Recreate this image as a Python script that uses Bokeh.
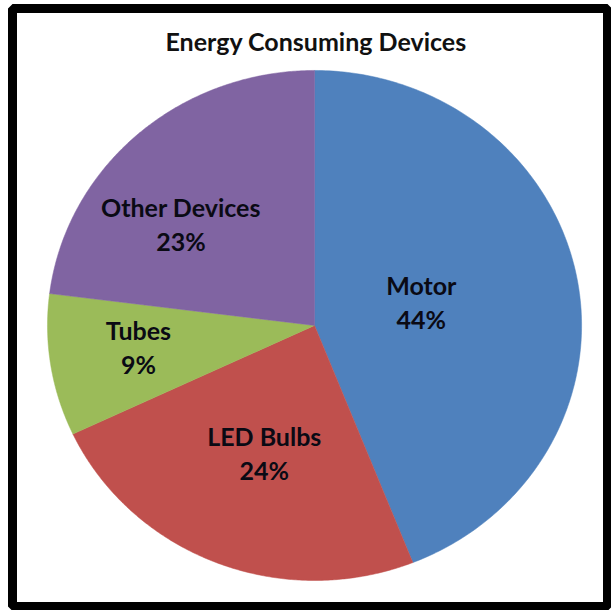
import numpy as np
from bokeh.plotting import figure
from bokeh.models import ColumnDataSource, Range1d
from bokeh.core.properties import value
from bokeh.embed import file_html
from bokeh.resources import INLINE

# Share of energy use by device type (percent), clockwise from 12 o'clock
devices = ["Motor", "LED Bulbs", "Tubes", "Other Devices"]
shares = [44, 24, 9, 23]
colors = ["#4f81bd", "#c0504d", "#9bbb59", "#8064a2"]
title_text = "Energy Consuming Devices"

# label placement: fraction of radius and angular nudge (degrees) per slice
label_radius = [0.41, 0.535, 0.665, 0.64]
label_nudge = [2.0, 1.0, -1.6, 10.0]

FONT = "Lato"

p = figure(width=611, height=610, output_backend="svg", toolbar_location=None,
           x_range=Range1d(-1.131, 1.097), y_range=Range1d(-1.102, 1.243),
           min_border_left=12, min_border_right=4, min_border_top=8, min_border_bottom=4,
           tools="")
p.axis.visible = False
p.grid.visible = False
p.background_fill_color = "white"
p.border_fill_color = "white"
p.outline_line_color = "black"
p.outline_line_width = 9

total = float(sum(shares))
xs, ys, lx, ly = [], [], [], []
start = 0.0
for i, s in enumerate(shares):
    frac0 = start / total
    frac1 = (start + s) / total
    # clockwise from the top
    a = np.pi / 2 - 2 * np.pi * np.linspace(frac0, frac1, 200)
    xs.append(np.concatenate([[0.0], np.cos(a), [0.0]]).tolist())
    ys.append(np.concatenate([[0.0], np.sin(a), [0.0]]).tolist())
    mid = np.pi / 2 - 2 * np.pi * (frac0 + frac1) / 2 + np.radians(label_nudge[i])
    lx.append(label_radius[i] * np.cos(mid))
    ly.append(label_radius[i] * np.sin(mid))
    start += s

src = ColumnDataSource(dict(xs=xs, ys=ys, color=colors, lx=lx, ly=ly,
                            name=devices, pct=[f"{s}%" for s in shares]))
p.patches("xs", "ys", source=src, fill_color="color", line_color="color", line_width=0.5)

p.text("lx", "ly", text="name", source=src, text_align="center", text_baseline="middle",
       y_offset=-17, text_font=value(FONT), text_font_style="bold",
       text_font_size="25px", text_color="#0a0a14")
p.text("lx", "ly", text="pct", source=src, text_align="center", text_baseline="middle",
       y_offset=17, text_font=value(FONT), text_font_style="bold",
       text_font_size="25px", text_color="#0a0a14")

p.text(x=[0.006], y=[(325 - 41) / 255.0], text=[title_text], text_align="center",
       text_baseline="middle", text_font=value(FONT), text_font_style="bold",
       text_font_size="25px", text_color="#111111")

open("out.html", "w").write(file_html(p, INLINE))
